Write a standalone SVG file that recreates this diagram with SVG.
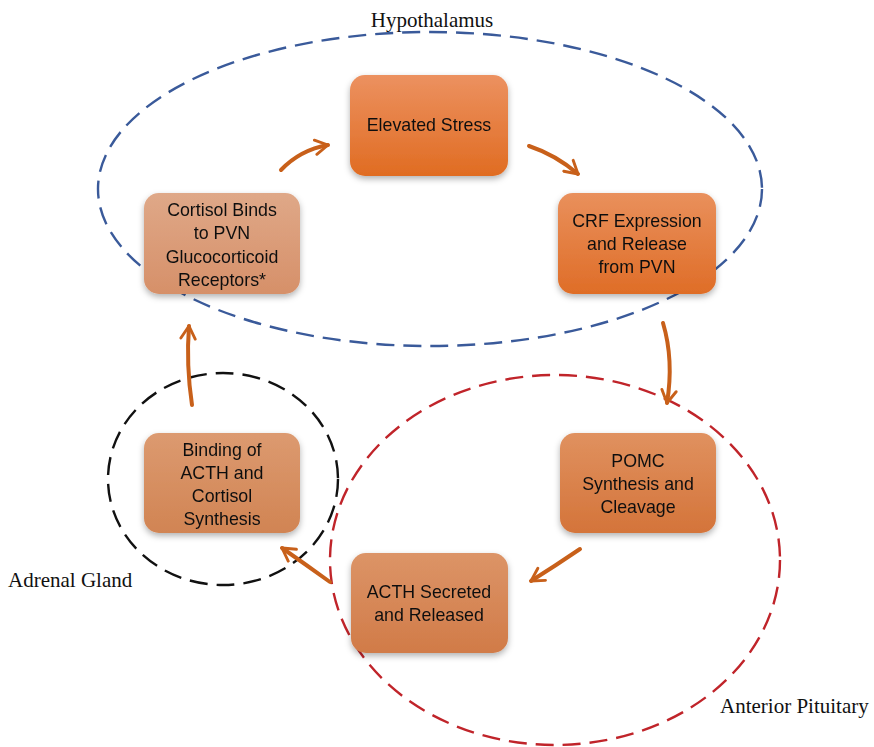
<svg xmlns="http://www.w3.org/2000/svg" width="874" height="747" viewBox="0 0 874 747">
<style>
.lbl{font-family:"Liberation Serif","Times New Roman",serif;font-size:21px;fill:#111}
.bt{font-family:"Liberation Sans",Arial,sans-serif;font-size:17.8px;fill:#111;text-anchor:middle}
.box{filter:url(#sh)}
.arr{fill:none;stroke:#c8601a;stroke-width:4;stroke-linecap:round;marker-end:url(#ah)}
</style>
<defs>
<filter id="sh" x="-20%" y="-20%" width="140%" height="150%">
<feDropShadow dx="0" dy="3" stdDeviation="3" flood-color="#000" flood-opacity="0.3"/>
</filter>
<linearGradient id="g1" x1="0" y1="0" x2="0" y2="1"><stop offset="0" stop-color="#ec9160"/><stop offset="1" stop-color="#e06c22"/></linearGradient>
<linearGradient id="g2" x1="0" y1="0" x2="0" y2="1"><stop offset="0" stop-color="#e9905c"/><stop offset="1" stop-color="#df6d27"/></linearGradient>
<linearGradient id="g3" x1="0" y1="0" x2="0" y2="1"><stop offset="0" stop-color="#e0915f"/><stop offset="1" stop-color="#d4743a"/></linearGradient>
<linearGradient id="g4" x1="0" y1="0" x2="0" y2="1"><stop offset="0" stop-color="#dc9467"/><stop offset="1" stop-color="#d17b48"/></linearGradient>
<linearGradient id="g5" x1="0" y1="0" x2="0" y2="1"><stop offset="0" stop-color="#dc9a70"/><stop offset="1" stop-color="#d18453"/></linearGradient>
<linearGradient id="g6" x1="0" y1="0" x2="0" y2="1"><stop offset="0" stop-color="#dfa888"/><stop offset="1" stop-color="#d69069"/></linearGradient>
<marker id="ah" viewBox="0 0 10 10" refX="8" refY="5" markerWidth="4.5" markerHeight="4.5" orient="auto" markerUnits="strokeWidth">
<path d="M1,1 L8,5 L1,9" fill="none" stroke="#c8601a" stroke-width="1.6" stroke-linecap="round" stroke-linejoin="round"/>
</marker>
</defs>

<g id="regions">
<ellipse cx="430" cy="189" rx="332" ry="157" fill="none" stroke="#3a5a9a" stroke-width="2.4" stroke-dasharray="18,9"/>
<ellipse cx="555" cy="560" rx="225" ry="185" fill="none" stroke="#c0242a" stroke-width="2.4" stroke-dasharray="18,9"/>
<ellipse cx="223" cy="479" rx="115" ry="106" fill="none" stroke="#111" stroke-width="2.4" stroke-dasharray="18,9"/>
<text class="lbl" x="432" y="27" text-anchor="middle">Hypothalamus</text>
<text class="lbl" x="8" y="587">Adrenal Gland</text>
<text class="lbl" x="720" y="713">Anterior Pituitary</text>
</g>

<g id="connectors">
<path class="arr" d="M281,170 Q300,150 328,145"/>
<path class="arr" d="M529,146 Q556,155 578,174"/>
<path class="arr" d="M663,323 Q674,360 667,403"/>
<path class="arr" d="M580,549 Q555,566 531,581"/>
<path class="arr" d="M330,582 Q305,564 282,548"/>
<path class="arr" d="M192,405 Q186,365 189,326"/>
</g>

<g id="n1" class="box"><rect x="350" y="75" width="158" height="101" rx="15" fill="url(#g1)"/>
<text class="bt" x="429" y="131">Elevated Stress</text></g>

<g id="n2" class="box"><rect x="558" y="193" width="158" height="101" rx="15" fill="url(#g2)"/>
<text class="bt" x="637" y="227">CRF Expression</text><text class="bt" x="637" y="250">and Release</text><text class="bt" x="637" y="273">from PVN</text></g>

<g id="n3" class="box"><rect x="560" y="433" width="156" height="100" rx="15" fill="url(#g3)"/>
<text class="bt" x="638" y="467">POMC</text><text class="bt" x="638" y="490">Synthesis and</text><text class="bt" x="638" y="513">Cleavage</text></g>

<g id="n4" class="box"><rect x="351" y="553" width="157" height="100" rx="15" fill="url(#g4)"/>
<text class="bt" x="429" y="598">ACTH Secreted</text><text class="bt" x="429" y="621">and Released</text></g>

<g id="n5" class="box"><rect x="144" y="433" width="156" height="100" rx="15" fill="url(#g5)"/>
<text class="bt" x="222" y="456">Binding of</text><text class="bt" x="222" y="479">ACTH and</text><text class="bt" x="222" y="502">Cortisol</text><text class="bt" x="222" y="525">Synthesis</text></g>

<g id="n6" class="box"><rect x="144" y="193" width="156" height="101" rx="15" fill="url(#g6)"/>
<text class="bt" x="222" y="216">Cortisol Binds</text><text class="bt" x="222" y="239">to PVN</text><text class="bt" x="222" y="263">Glucocorticoid</text><text class="bt" x="222" y="286">Receptors*</text></g>
</svg>
